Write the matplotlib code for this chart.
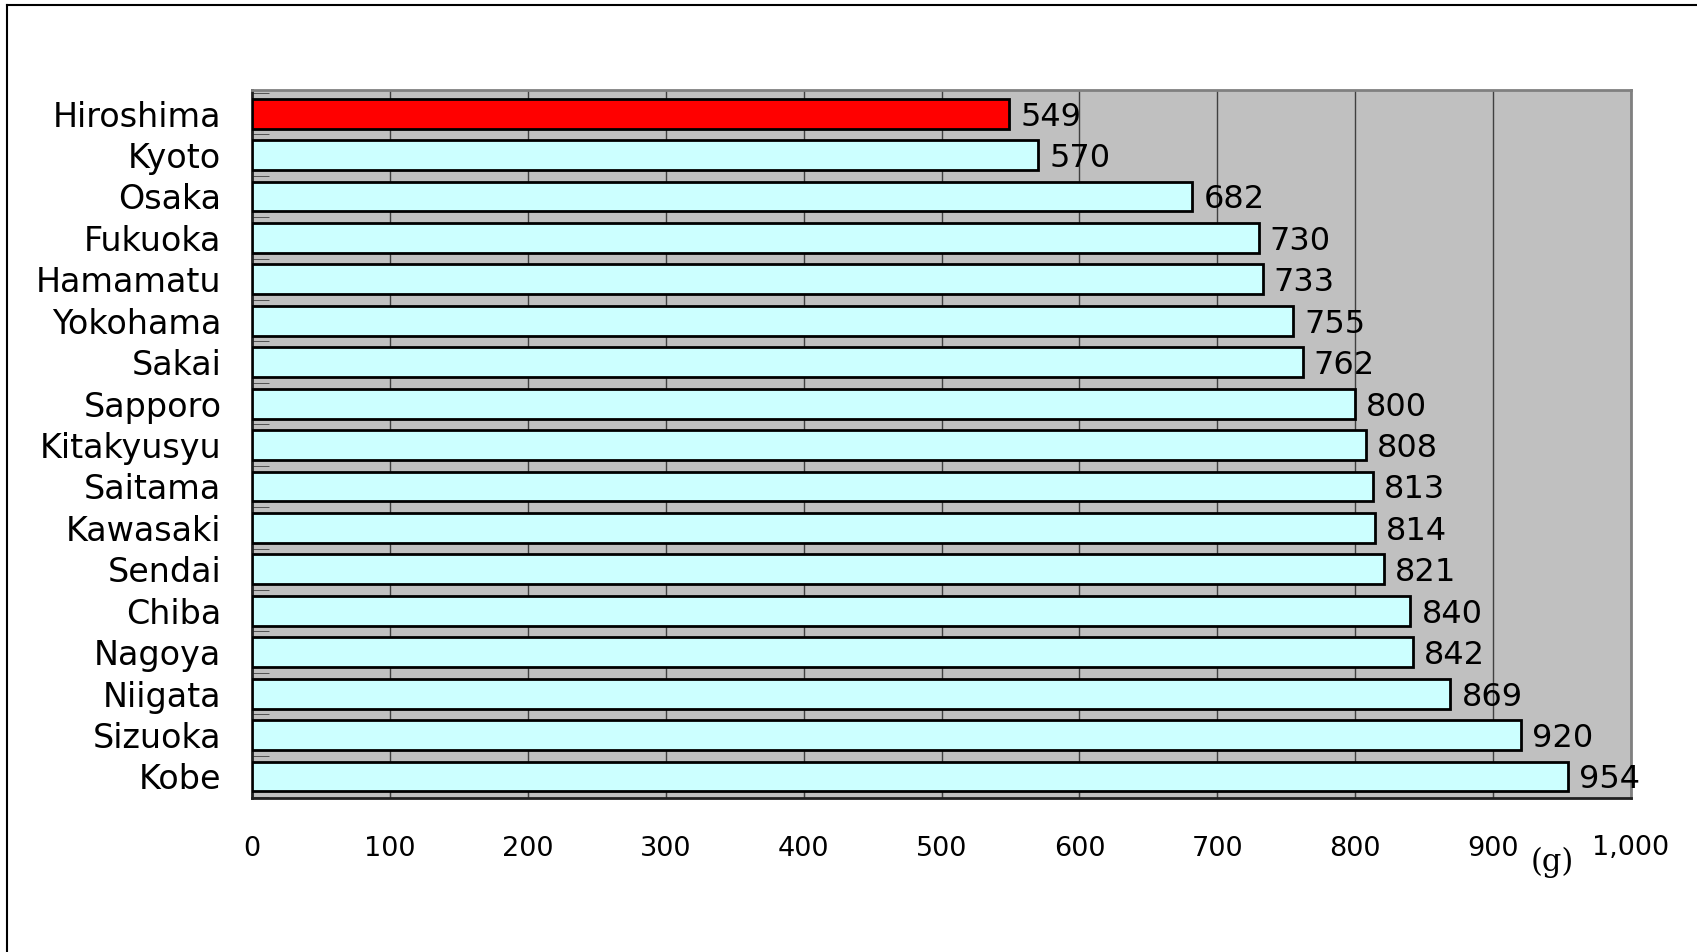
import matplotlib
matplotlib.use("Agg")
import matplotlib.pyplot as plt
from matplotlib.lines import Line2D
import numpy as np

plt.rcParams['font.family'] = ['DejaVu Sans']

cities = ["Hiroshima", "Kyoto", "Osaka", "Fukuoka", "Hamamatu", "Yokohama", "Sakai",
          "Sapporo", "Kitakyusyu", "Saitama", "Kawasaki", "Sendai", "Chiba", "Nagoya",
          "Niigata", "Sizuoka", "Kobe"]
values = [549, 570, 682, 730, 733, 755, 762, 800, 808, 813, 814, 821, 840, 842, 869, 920, 954]
highlight = "Hiroshima"
xticks = [0, 100, 200, 300, 400, 500, 600, 700, 800, 900, 1000]
xtick_labels = ["0", "100", "200", "300", "400", "500", "600", "700", "800", "900", "1,000"]

W, H = 1697, 952
fig = plt.figure(figsize=(W / 100, H / 100), dpi=100)
ax = fig.add_axes([252 / W, 1 - 798 / H, (1631 - 252) / W, (798 - 90) / H])
ax.set_facecolor("#C0C0C0")

y = np.arange(len(cities))
colors = ["#FF0000" if c == highlight else "#CCFFFF" for c in cities]
ax.barh(y, values, height=0.72, color=colors, edgecolor="black", linewidth=2, zorder=3)

for yi, v in zip(y, values):
    ax.text(v + 8, yi, str(v), va="center_baseline", ha="left", fontsize=23, zorder=4)

ax.set_xlim(0, 1000)
ax.set_ylim(len(cities) - 0.48, -0.57)
ax.set_xticks(xticks)
ax.set_xticklabels(xtick_labels, fontsize=19.5)
ax.set_yticks(y)
ax.set_yticklabels(cities, fontsize=24, va="center_baseline")
ax.tick_params(axis="y", length=0, pad=22)
ax.tick_params(axis="x", direction="in", length=6, pad=27, color="#404040")
# small ticks at slot boundaries
ax.set_yticks(np.arange(len(cities) + 1) - 0.5, minor=True)
ax.tick_params(axis="y", which="minor", direction="in", length=12, color="#404040")

ax.grid(axis="x", color="#404040", linewidth=1, zorder=1)
for side in ["top", "right"]:
    ax.spines[side].set_color("#808080")
    ax.spines[side].set_linewidth(2)
for side in ["left", "bottom"]:
    ax.spines[side].set_color("#202020")
    ax.spines[side].set_linewidth(2)

fig.text(1552 / W, 1 - 862 / H, "(g)", fontsize=22, family="DejaVu Serif",
         ha="center", va="center")

# outer frame (left and top edges visible)
fig.add_artist(Line2D([7 / W, 7 / W], [0, 1 - 5 / H], color="black", linewidth=1.5))
fig.add_artist(Line2D([7 / W, 1], [1 - 5 / H, 1 - 5 / H], color="black", linewidth=1.5))

fig.savefig("out.png", dpi=100)
